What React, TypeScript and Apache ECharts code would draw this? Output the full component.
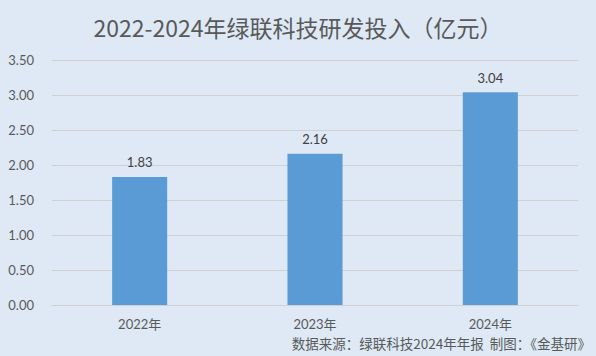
import React, { useEffect, useRef } from "react";
import * as echarts from "echarts";

const categories = ["2022年", "2023年", "2024年"];
const values = [1.83, 2.16, 3.04];
const titleText = "2022-2024年绿联科技研发投入（亿元）";
const sourceText = "数据来源：绿联科技2024年年报  制图：《金基研》";

export default function App() {
  const ref = useRef<HTMLDivElement>(null);
  useEffect(() => {
    if (!ref.current) return;
    const chart = echarts.init(ref.current, null, { renderer: "svg" });
    const font = "Lato, 'Noto Sans CJK SC', sans-serif";
    chart.setOption({
      animation: false,
      backgroundColor: "#dee9f5",
      title: {
        text: titleText,
        left: "center",
        top: 10,
        textStyle: {
          fontFamily: "'Noto Sans CJK SC', sans-serif",
          fontSize: 23,
          fontWeight: "normal",
          color: "#595959",
        },
      },
      grid: { left: 52, right: 18, top: 60, bottom: 51 },
      xAxis: {
        type: "category",
        data: categories,
        axisLine: { lineStyle: { color: "#d0d0d0" } },
        axisTick: { show: false },
        axisLabel: { color: "#595959", fontSize: 13, fontFamily: font, margin: 12 },
      },
      yAxis: {
        type: "value",
        min: 0,
        max: 3.5,
        interval: 0.5,
        axisLine: { show: false },
        axisTick: { show: false },
        splitLine: { lineStyle: { color: "#d0d0d0" } },
        axisLabel: {
          color: "#595959",
          fontSize: 13,
          fontFamily: font,
          margin: 18,
          formatter: (v: number) => v.toFixed(2),
        },
      },
      series: [
        {
          type: "bar",
          data: values,
          barWidth: "31.4%",
          itemStyle: { color: "#5b9bd5" },
          label: {
            show: true,
            position: "top",
            distance: 8,
            color: "#404040",
            fontSize: 13,
            fontFamily: font,
            formatter: (p: any) => p.value.toFixed(2),
          },
        },
      ],
      graphic: [
        {
          type: "text",
          right: 5,
          top: 336,
          style: {
            text: sourceText,
            fill: "#595959",
            fontSize: 13.5,
            fontFamily: "'Noto Sans CJK SC', sans-serif",
          },
        },
      ],
    });
    return () => chart.dispose();
  }, []);
  return <div ref={ref} style={{ width: 596, height: 356, position: "absolute", left: 0, top: 0 }} />;
}
